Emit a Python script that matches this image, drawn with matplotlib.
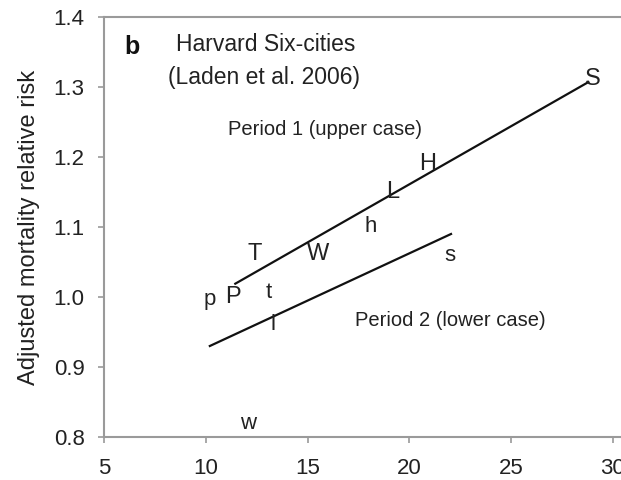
import matplotlib
matplotlib.use("Agg")
import matplotlib.pyplot as plt

plt.rcParams["font.family"] = ["Liberation Sans", "DejaVu Sans"]

# Period 1 cities (upper case)
p1_labels = ["S", "H", "L", "W", "T", "P"]
p1_x = [29.0, 20.9, 19.2, 15.5, 12.4, 11.35]
p1_y = [1.311, 1.19, 1.15, 1.061, 1.061, 1.0]

# Period 2 cities (lower case)
p2_labels = ["s", "h", "t", "l", "p", "w"]
p2_x = [22.0, 18.1, 13.1, 13.3, 10.2, 12.1]
p2_y = [1.059, 1.10, 1.007, 0.96, 0.996, 0.819]

# regression lines (endpoints)
fit1_x = [11.45, 28.8]
fit1_y = [1.019, 1.307]
fit2_x = [10.2, 22.05]
fit2_y = [0.930, 1.09]

xticks = [5, 10, 15, 20, 25, 30]
yticks = [0.8, 0.9, 1.0, 1.1, 1.2, 1.3, 1.4]

txt = "#222222"
spine_col = "#9a9a9a"

fig = plt.figure(figsize=(6.21, 4.8), dpi=100)
ax = fig.add_axes([0.1675, 0.0896, 0.8357, 0.875])

ax.plot(fit1_x, fit1_y, color="#111111", lw=1.6)
ax.plot(fit2_x, fit2_y, color="#111111", lw=1.6)

for lab, x, y in zip(p1_labels, p1_x, p1_y):
    ax.text(x, y, lab, fontsize=17, ha="center", va="center", color=txt)
for lab, x, y in zip(p2_labels, p2_x, p2_y):
    ax.text(x, y, lab, fontsize=16, ha="center", va="center", color=txt)

ax.text(6.37, 1.357, "b", fontsize=18, fontweight="bold", ha="center", va="center", color="#111111")
ax.text(8.53, 1.36, "Harvard Six-cities", fontsize=16.5, ha="left", va="center", color=txt)
ax.text(8.14, 1.314, "(Laden et al. 2006)", fontsize=16.5, ha="left", va="center", color=txt)
ax.text(11.08, 1.239, "Period 1 (upper case)", fontsize=14.5, ha="left", va="center", color=txt)
ax.text(17.35, 0.967, "Period 2 (lower case)", fontsize=14.5, ha="left", va="center", color=txt)

ax.set_xlim(5, 30.5)
ax.set_ylim(0.8, 1.4)
ax.set_xticks(xticks)
ax.set_yticks(yticks)
ax.set_yticklabels([f"{v:.1f}" for v in yticks])
ax.tick_params(axis="both", labelsize=16, colors=spine_col, labelcolor=txt,
               length=4, width=1.2, direction="out")
ax.tick_params(axis="y", pad=10)
ax.tick_params(axis="x", pad=11)
ax.set_ylabel("Adjusted mortality relative risk", fontsize=17, color=txt, labelpad=10)

for side in ["left", "bottom", "top"]:
    ax.spines[side].set_color(spine_col)
    ax.spines[side].set_linewidth(1.5)
ax.spines["right"].set_visible(False)

fig.savefig("out.png", dpi=100)
